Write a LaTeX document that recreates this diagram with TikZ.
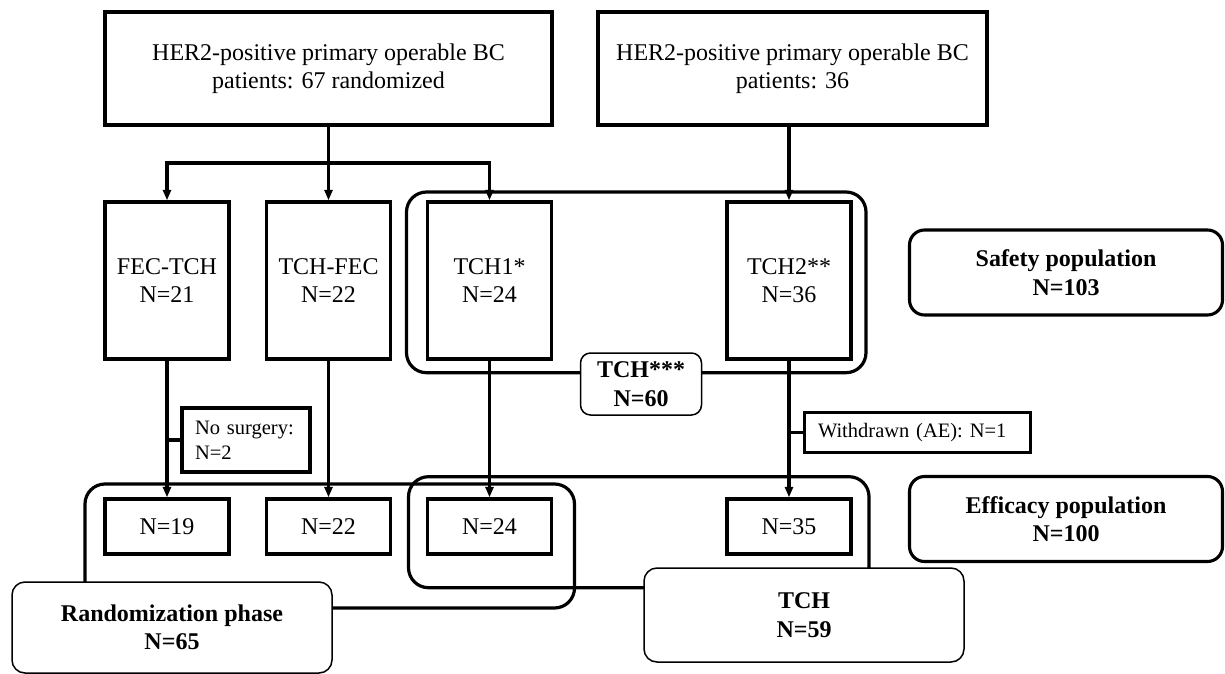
\documentclass[tikz,border=0pt]{standalone}
\usepackage{fontspec}
\setmainfont{Liberation Serif}
\usetikzlibrary{arrows.meta}

\begin{document}
\begin{tikzpicture}[x=1pt, y=-1pt,
    caja/.style={draw, line width=3.3pt, align=center, inner sep=0pt, font=\fontsize{24}{28.5}\selectfont},
    nota/.style={draw, line width=3.1pt, align=left, inner ysep=0pt, font=\fontsize{20.5}{25}\selectfont},
    pob/.style={draw, line width=3.1pt, rounded corners=15pt, align=center, minimum width=313pt, minimum height=85pt, font=\fontsize{24}{28.5}\selectfont\bfseries},
    fase/.style={draw, fill=white, line width=1.5pt, rounded corners=13pt, align=center, font=\fontsize{24}{28.5}\selectfont\bfseries},
    grupo/.style={line width=3.2pt, rounded corners=20pt},
    linea/.style={line width=3.2pt},
    flecha/.style={line width=3.2pt, -{Triangle[length=10.5pt,width=8pt]}}]
        \useasboundingbox (0,0) rectangle (1225,674);
        % Pacientes
        \node[caja, minimum width=447pt, minimum height=113pt] (pacA) at (328.5,68.5) {HER2-positive primary operable BC\\patients: 67 randomized};
        \node[caja, minimum width=389pt, minimum height=113pt] (pacB) at (792.5,68.5) {HER2-positive primary operable BC\\patients: 36};
        % Brazos
        \node[caja, minimum width=124pt, minimum height=157pt] (fectch) at (167,280.5) {FEC-TCH\\N=21};
        \node[caja, minimum width=124pt, minimum height=157pt] (tchfec) at (328.5,280.5) {TCH-FEC\\N=22};
        \node[caja, minimum width=124pt, minimum height=157pt] (tchuno) at (489.5,280.5) {TCH1*\\N=24};
        \node[caja, minimum width=124pt, minimum height=157pt] (tchdos) at (789,280.5) {TCH2**\\N=36};
        % Cirugia
        \node[caja, minimum width=124pt, minimum height=55pt] (nA) at (167,526.5) {N=19};
        \node[caja, minimum width=124pt, minimum height=55pt] (nB) at (328.5,526.5) {N=22};
        \node[caja, minimum width=124pt, minimum height=55pt] (nC) at (489.5,526.5) {N=24};
        \node[caja, minimum width=124pt, minimum height=55pt] (nD) at (789,526.5) {N=35};
        % Salidas
        \node[nota, text width=102pt, inner xsep=13pt, minimum height=64pt] (nocir) at (246,440) {No surgery:\\N=2};
        \node[nota, text width=199pt, inner xsep=13.5pt, minimum height=40pt] (retiro) at (917.5,432.5) {Withdrawn (AE): N=1};
        % Flechas
        \coordinate (rama) at (328.5,163);
        \draw[linea] (pacA.south) -- (rama);
        \draw[flecha] (rama) -| (fectch.north);
        \draw[flecha] (rama) -- (tchfec.north);
        \draw[flecha] (rama) -| (tchuno.north);
        \draw[flecha] (pacB.south -| tchdos.north) -- (tchdos.north);
        \draw[flecha] (fectch.south) -- (nA.north);
        \draw[flecha] (tchfec.south) -- (nB.north);
        \draw[flecha] (tchuno.south) -- (nC.north);
        \draw[flecha] (tchdos.south) -- (nD.north);
        \draw[linea] (nocir.west) -- (nocir.west -| fectch.south);
        \draw[linea] (retiro.west) -- (retiro.west -| tchdos.south);
        % Grupos
        \draw[grupo] (406.5,192) rectangle (866,372.7);
        \draw[grupo] (85,484) rectangle (574.5,608);
        \draw[grupo] (408.5,476.7) rectangle (869,587.7);
        % Poblaciones
        \node[pob] (seg) at (1066,272.5) {Safety population\\N=103};
        \node[pob] (efi) at (1066,519) {Efficacy population\\N=100};
        \node[fase, minimum width=121pt, minimum height=62pt, rounded corners=10pt] (tchtot) at (641,384) {TCH***\\N=60};
        \node[fase, minimum width=320pt, minimum height=94pt] (tchfin) at (804,615) {TCH\\N=59};
        \node[fase, minimum width=320pt, minimum height=91pt] (aleat) at (172,627.5) {Randomization phase\\N=65};
\end{tikzpicture}
\end{document}
